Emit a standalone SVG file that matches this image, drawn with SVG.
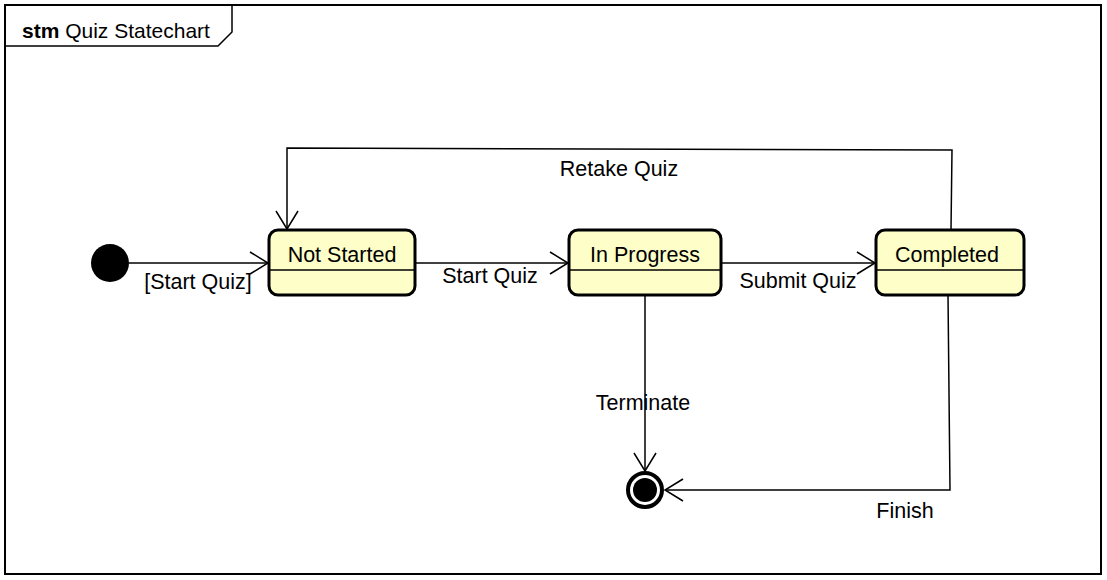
<svg xmlns="http://www.w3.org/2000/svg" width="1107" height="580" viewBox="0 0 1107 580">
<style>
text{font-family:"Liberation Sans",Arial,sans-serif;font-size:21.5px;fill:#000;text-anchor:middle}
.state rect{fill:#fefec8;stroke:#000;stroke-width:3}
.state line{stroke:#000;stroke-width:1.5}
.edge{fill:none;stroke:#000;stroke-width:1.5}
.head{fill:none;stroke:#000;stroke-width:1.5}
</style>
<rect width="1107" height="580" fill="#fff"/>
<g id="frame">
<rect x="5" y="5" width="1096" height="569" fill="none" stroke="#000" stroke-width="2"/>
<path d="M5 46 H218 L232 32 V5" fill="none" stroke="#000" stroke-width="1.5"/>
<text x="22" y="38" style="text-anchor:start;font-size:21px"><tspan font-weight="bold">stm</tspan> Quiz Statechart</text>
</g>
<g id="connectors">
<g id="e-init">
<path class="edge" d="M129 263 H268"/>
<path class="head" d="M250 252 L268 263 L250 274"/>
<text x="198" y="289">[Start Quiz]</text>
</g>
<g id="e-start">
<path class="edge" d="M415 263 H568"/>
<path class="head" d="M550 252 L568 263 L550 274"/>
<text x="490" y="283">Start Quiz</text>
</g>
<g id="e-submit">
<path class="edge" d="M721 263 H875"/>
<path class="head" d="M857 252 L875 263 L857 274"/>
<text x="798" y="288">Submit Quiz</text>
</g>
<g id="e-retake">
<path class="edge" d="M951 230 L952 150 L287 148 V229"/>
<path class="head" d="M276 211 L287 229 L298 211"/>
<text x="619" y="176">Retake Quiz</text>
</g>
<g id="e-terminate">
<path class="edge" d="M645 295 V471"/>
<path class="head" d="M634 453 L645 471 L656 453"/>
<text x="643" y="410">Terminate</text>
</g>
<g id="e-finish">
<path class="edge" d="M948 295 L950 490 H665"/>
<path class="head" d="M683 479 L665 490 L683 501"/>
<text x="905" y="518">Finish</text>
</g>
</g>
<g id="initial">
<circle cx="110" cy="263" r="19" fill="#000"/>
</g>
<g id="notStarted" class="state">
<rect x="269" y="230" width="146" height="65" rx="9"/>
<line x1="270" y1="270" x2="414" y2="270"/>
<text x="342" y="262">Not Started</text>
</g>
<g id="inProgress" class="state">
<rect x="569" y="230" width="152" height="65" rx="9"/>
<line x1="570" y1="270" x2="720" y2="270"/>
<text x="645" y="262">In Progress</text>
</g>
<g id="completed" class="state">
<rect x="876" y="230" width="148" height="65" rx="9"/>
<line x1="877" y1="270" x2="1023" y2="270"/>
<text x="947" y="262">Completed</text>
</g>
<g id="final">
<circle cx="645" cy="490" r="17" fill="#fff" stroke="#000" stroke-width="4"/>
<circle cx="645" cy="490" r="12" fill="#000"/>
</g>
</svg>
